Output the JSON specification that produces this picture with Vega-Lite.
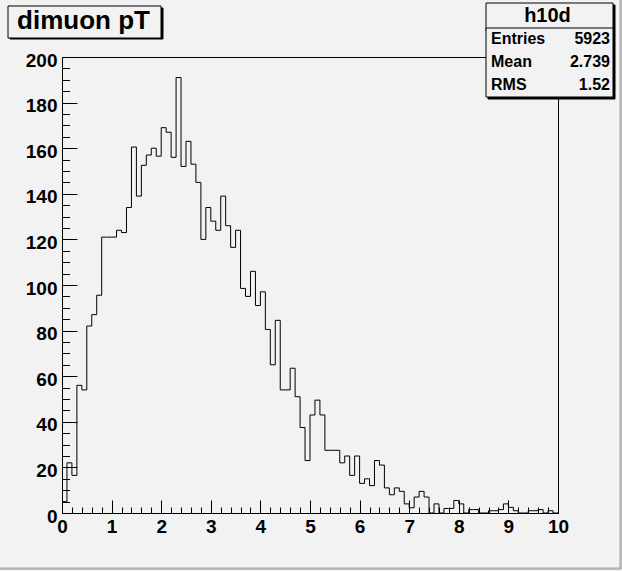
{
  "$schema": "https://vega.github.io/schema/vega-lite/v6.json",
  "width": 496,
  "height": 456,
  "autosize": {"type": "none"},
  "padding": {"left": 62, "top": 57, "right": 64, "bottom": 58},
  "background": "#f2f2f2",
  "config": {
    "view": {"stroke": "black", "strokeWidth": 1, "fill": "#f2f2f2"},
    "font": "Liberation Sans"
  },
  "datasets": {
    "hist": [
      {"pt": 0.0, "n": 5}, {"pt": 0.1, "n": 22}, {"pt": 0.2, "n": 16.5}, {"pt": 0.3, "n": 56}, {"pt": 0.4, "n": 54},
      {"pt": 0.5, "n": 82}, {"pt": 0.6, "n": 87}, {"pt": 0.7, "n": 95.5}, {"pt": 0.8, "n": 121}, {"pt": 0.9, "n": 121},
      {"pt": 1.0, "n": 121}, {"pt": 1.1, "n": 124}, {"pt": 1.2, "n": 123}, {"pt": 1.3, "n": 134}, {"pt": 1.4, "n": 160.5},
      {"pt": 1.5, "n": 139}, {"pt": 1.6, "n": 152.5}, {"pt": 1.7, "n": 157}, {"pt": 1.8, "n": 160}, {"pt": 1.9, "n": 156.5},
      {"pt": 2.0, "n": 169}, {"pt": 2.1, "n": 167}, {"pt": 2.2, "n": 156}, {"pt": 2.3, "n": 191}, {"pt": 2.4, "n": 152},
      {"pt": 2.5, "n": 163}, {"pt": 2.6, "n": 153}, {"pt": 2.7, "n": 145}, {"pt": 2.8, "n": 120}, {"pt": 2.9, "n": 134},
      {"pt": 3.0, "n": 128}, {"pt": 3.1, "n": 124}, {"pt": 3.2, "n": 139}, {"pt": 3.3, "n": 126}, {"pt": 3.4, "n": 116.5},
      {"pt": 3.5, "n": 124}, {"pt": 3.6, "n": 98.5}, {"pt": 3.7, "n": 95}, {"pt": 3.8, "n": 106}, {"pt": 3.9, "n": 91},
      {"pt": 4.0, "n": 97}, {"pt": 4.1, "n": 80.5}, {"pt": 4.2, "n": 65}, {"pt": 4.3, "n": 84.5}, {"pt": 4.4, "n": 54},
      {"pt": 4.5, "n": 54}, {"pt": 4.6, "n": 63.5}, {"pt": 4.7, "n": 51}, {"pt": 4.8, "n": 37.5}, {"pt": 4.9, "n": 23},
      {"pt": 5.0, "n": 43}, {"pt": 5.1, "n": 49.5}, {"pt": 5.2, "n": 43}, {"pt": 5.3, "n": 27.5}, {"pt": 5.4, "n": 27.5},
      {"pt": 5.5, "n": 27.5}, {"pt": 5.6, "n": 22}, {"pt": 5.7, "n": 25}, {"pt": 5.8, "n": 16.5}, {"pt": 5.9, "n": 25},
      {"pt": 6.0, "n": 13}, {"pt": 6.1, "n": 15}, {"pt": 6.2, "n": 12}, {"pt": 6.3, "n": 23}, {"pt": 6.4, "n": 21},
      {"pt": 6.5, "n": 11}, {"pt": 6.6, "n": 8}, {"pt": 6.7, "n": 11}, {"pt": 6.8, "n": 9.5}, {"pt": 6.9, "n": 4},
      {"pt": 7.0, "n": 2.3}, {"pt": 7.1, "n": 7}, {"pt": 7.2, "n": 9.5}, {"pt": 7.3, "n": 7}, {"pt": 7.4, "n": 0},
      {"pt": 7.5, "n": 4}, {"pt": 7.6, "n": 0}, {"pt": 7.7, "n": 2}, {"pt": 7.8, "n": 2}, {"pt": 7.9, "n": 5.5},
      {"pt": 8.0, "n": 4}, {"pt": 8.1, "n": 0}, {"pt": 8.2, "n": 1.5}, {"pt": 8.3, "n": 1.5}, {"pt": 8.4, "n": 0},
      {"pt": 8.5, "n": 0}, {"pt": 8.6, "n": 1}, {"pt": 8.7, "n": 1}, {"pt": 8.8, "n": 1.5}, {"pt": 8.9, "n": 4},
      {"pt": 9.0, "n": 2.5}, {"pt": 9.1, "n": 1}, {"pt": 9.2, "n": 0}, {"pt": 9.3, "n": 0}, {"pt": 9.4, "n": 1},
      {"pt": 9.5, "n": 1}, {"pt": 9.6, "n": 1.5}, {"pt": 9.7, "n": 0}, {"pt": 9.8, "n": 1}, {"pt": 9.9, "n": 0},
      {"pt": 10.0, "n": 0}
    ],
    "stats": [
      {"stat": "Entries", "value": "5923"},
      {"stat": "Mean", "value": "2.739"},
      {"stat": "RMS", "value": "1.52"}
    ]
  },
  "layer": [
    {
      "data": {"name": "hist"},
      "mark": {"type": "line", "interpolate": "step-after", "color": "black", "strokeWidth": 1},
      "encoding": {
        "x": {
          "field": "pt", "type": "quantitative",
          "scale": {"domain": [0, 10], "nice": false, "zero": false},
          "axis": {
            "orient": "bottom", "values": [0, 1, 2, 3, 4, 5, 6, 7, 8, 9, 10],
            "tickSize": -13, "tickColor": "black", "tickWidth": 1, "domain": false, "grid": false, "title": null,
            "labelFont": "Liberation Sans", "labelFontWeight": "bold", "labelFontSize": 19, "labelColor": "black",
            "labelPadding": 17, "labelFlush": false, "labelOverlap": false, "format": "d"
          }
        },
        "y": {
          "field": "n", "type": "quantitative",
          "scale": {"domain": [0, 200], "nice": false},
          "axis": {
            "orient": "left", "values": [0, 20, 40, 60, 80, 100, 120, 140, 160, 180, 200],
            "tickSize": -15, "tickColor": "black", "tickWidth": 1, "domain": false, "grid": false, "title": null,
            "labelFont": "Liberation Sans", "labelFontWeight": "bold", "labelFontSize": 19, "labelColor": "black",
            "labelPadding": 20, "labelOffset": 3, "labelFlush": false, "labelOverlap": false, "format": "d"
          }
        }
      }
    },
    {
      "data": {"name": "hist"},
      "mark": {"type": "point", "opacity": 0},
      "encoding": {
        "x": {
          "field": "pt", "type": "quantitative",
          "axis": {
            "orient": "bottom",
            "values": [0, 0.2, 0.4, 0.6, 0.8, 1, 1.2, 1.4, 1.6, 1.8, 2, 2.2, 2.4, 2.6, 2.8, 3, 3.2, 3.4, 3.6, 3.8, 4, 4.2, 4.4, 4.6, 4.8, 5, 5.2, 5.4, 5.6, 5.8, 6, 6.2, 6.4, 6.6, 6.8, 7, 7.2, 7.4, 7.6, 7.8, 8, 8.2, 8.4, 8.6, 8.8, 9, 9.2, 9.4, 9.6, 9.8, 10],
            "tickSize": -6, "tickColor": "black", "tickWidth": 1, "domain": false, "grid": false, "title": null, "labels": false
          }
        },
        "y": {
          "field": "n", "type": "quantitative",
          "axis": {
            "orient": "left",
            "values": [0, 5, 10, 15, 20, 25, 30, 35, 40, 45, 50, 55, 60, 65, 70, 75, 80, 85, 90, 95, 100, 105, 110, 115, 120, 125, 130, 135, 140, 145, 150, 155, 160, 165, 170, 175, 180, 185, 190, 195, 200],
            "tickSize": -7.5, "tickColor": "black", "tickWidth": 1, "domain": false, "grid": false, "title": null, "labels": false
          }
        }
      }
    },
    {
      "data": {"name": "hist"},
      "mark": {"type": "point", "opacity": 0},
      "encoding": {
        "color": {
          "field": "n", "type": "quantitative",
          "legend": {
            "type": "gradient", "direction": "horizontal", "orient": "none", "legendX": -81.5, "legendY": -76.5,
            "title": "", "titlePadding": 0,
            "gradientLength": 640, "gradientThickness": 587, "gradientOpacity": 0, "gradientStrokeWidth": 0,
            "labelFontSize": 1, "labelOpacity": 0, "labelOffset": 0, "labelExpr": "''",
            "padding": 0, "strokeColor": "#8c8c8c", "cornerRadius": 0
          }
        }
      }
    },
    {
      "data": {"name": "hist"},
      "mark": {"type": "point", "opacity": 0},
      "encoding": {
        "color": {
          "field": "n", "type": "quantitative",
          "legend": {
            "type": "gradient", "direction": "horizontal", "orient": "none", "legendX": -81.5, "legendY": -76.5,
            "title": "", "titlePadding": 0,
            "gradientLength": 639, "gradientThickness": 586, "gradientOpacity": 0, "gradientStrokeWidth": 0,
            "labelFontSize": 1, "labelOpacity": 0, "labelOffset": 0, "labelExpr": "''",
            "padding": 0, "strokeColor": "#a8a8a8", "cornerRadius": 0
          }
        }
      }
    },
    {
      "data": {"name": "hist"},
      "mark": {"type": "point", "opacity": 0},
      "encoding": {
        "color": {
          "field": "n", "type": "quantitative",
          "legend": {
            "type": "gradient", "direction": "horizontal", "orient": "none", "legendX": -52.5, "legendY": -49.5,
            "title": "", "titlePadding": 0,
            "gradientLength": 153, "gradientThickness": 30, "gradientOpacity": 0, "gradientStrokeWidth": 0,
            "labelFontSize": 1, "labelOpacity": 0, "labelOffset": 0, "labelExpr": "''",
            "padding": 0, "strokeColor": "black", "fillColor": "black", "cornerRadius": 0
          }
        }
      }
    },
    {
      "data": {"name": "hist"},
      "mark": {"type": "point", "opacity": 0},
      "encoding": {
        "color": {
          "field": "n", "type": "quantitative",
          "legend": {
            "type": "gradient", "direction": "horizontal", "orient": "none", "legendX": -54.5, "legendY": -51.5,
            "title": "dimuon pT", "titleFont": "Liberation Sans", "titleFontSize": 26, "titleFontWeight": "bold", "titleColor": "black",
            "titleAnchor": "middle", "titlePadding": 0, "titleLimit": 400,
            "gradientLength": 149, "gradientThickness": 0.5, "gradientOpacity": 0, "gradientStrokeWidth": 0,
            "labelFontSize": 1, "labelOpacity": 0, "labelOffset": 0, "labelExpr": "''",
            "padding": 2, "strokeColor": "black", "fillColor": "#f2f2f2", "cornerRadius": 0
          }
        }
      }
    },
    {
      "data": {"name": "hist"},
      "mark": {"type": "point", "opacity": 0},
      "encoding": {
        "color": {
          "field": "n", "type": "quantitative",
          "legend": {
            "type": "gradient", "direction": "horizontal", "orient": "none", "legendX": 425.5, "legendY": -52.5,
            "title": "", "titlePadding": 0,
            "gradientLength": 127, "gradientThickness": 93, "gradientOpacity": 0, "gradientStrokeWidth": 0,
            "labelFontSize": 1, "labelOpacity": 0, "labelOffset": 0, "labelExpr": "''",
            "padding": 0, "strokeColor": "black", "fillColor": "black", "cornerRadius": 0
          }
        }
      }
    },
    {
      "data": {"name": "hist"},
      "mark": {"type": "point", "opacity": 0},
      "encoding": {
        "color": {
          "field": "n", "type": "quantitative",
          "legend": {
            "type": "gradient", "direction": "horizontal", "orient": "none", "legendX": 423.5, "legendY": -54.5,
            "title": "h10d", "titleFont": "Liberation Sans", "titleFontSize": 20, "titleFontWeight": "bold", "titleColor": "black",
            "titleAnchor": "middle", "titlePadding": 0,
            "gradientLength": 121, "gradientThickness": 0.5, "gradientOpacity": 0, "gradientStrokeWidth": 0,
            "labelFontSize": 1, "labelOpacity": 0, "labelOffset": 0, "labelExpr": "''",
            "padding": 3, "strokeColor": "black", "fillColor": "#f2f2f2", "cornerRadius": 0
          }
        }
      }
    },
    {
      "data": {"name": "hist"},
      "mark": {"type": "point", "opacity": 0},
      "encoding": {
        "color": {
          "field": "n", "type": "quantitative",
          "legend": {
            "type": "gradient", "direction": "horizontal", "orient": "none", "legendX": 423.5, "legendY": -29.5,
            "title": "", "titlePadding": 0,
            "gradientLength": 127, "gradientThickness": 68, "gradientOpacity": 0, "gradientStrokeWidth": 0,
            "labelFontSize": 1, "labelOpacity": 0, "labelOffset": 0, "labelExpr": "''",
            "padding": 0, "strokeColor": "black", "fillColor": "#f2f2f2", "cornerRadius": 0
          }
        }
      }
    },
    {
      "data": {"name": "stats"},
      "mark": {"type": "point", "opacity": 0},
      "encoding": {
        "shape": {
          "field": "stat", "type": "nominal", "sort": null,
          "legend": {
            "orient": "none", "legendX": 413, "legendY": -26, "title": null, "direction": "vertical",
            "labelFont": "Liberation Sans", "labelFontSize": 16, "labelFontWeight": "bold", "labelColor": "black",
            "symbolSize": 0, "symbolOpacity": 0, "symbolStrokeWidth": 0, "symbolOffset": 0, "labelOffset": 0,
            "rowPadding": 7, "padding": 0, "labelLimit": 200
          }
        },
        "strokeDash": {
          "field": "value", "type": "nominal", "sort": null,
          "legend": {
            "orient": "none", "legendX": 532, "legendY": -26, "title": null, "direction": "vertical",
            "labelFont": "Liberation Sans", "labelFontSize": 16, "labelFontWeight": "bold", "labelColor": "black",
            "labelAlign": "right",
            "symbolSize": 0, "symbolOpacity": 0, "symbolStrokeWidth": 0, "symbolOffset": 0, "labelOffset": 0,
            "rowPadding": 7, "padding": 0, "labelLimit": 200
          }
        }
      }
    }
  ],
  "resolve": {
    "axis": {"x": "independent", "y": "independent"},
    "scale": {"color": "independent", "shape": "independent", "strokeDash": "independent"},
    "legend": {"color": "independent", "shape": "independent", "strokeDash": "independent"}
  }
}
